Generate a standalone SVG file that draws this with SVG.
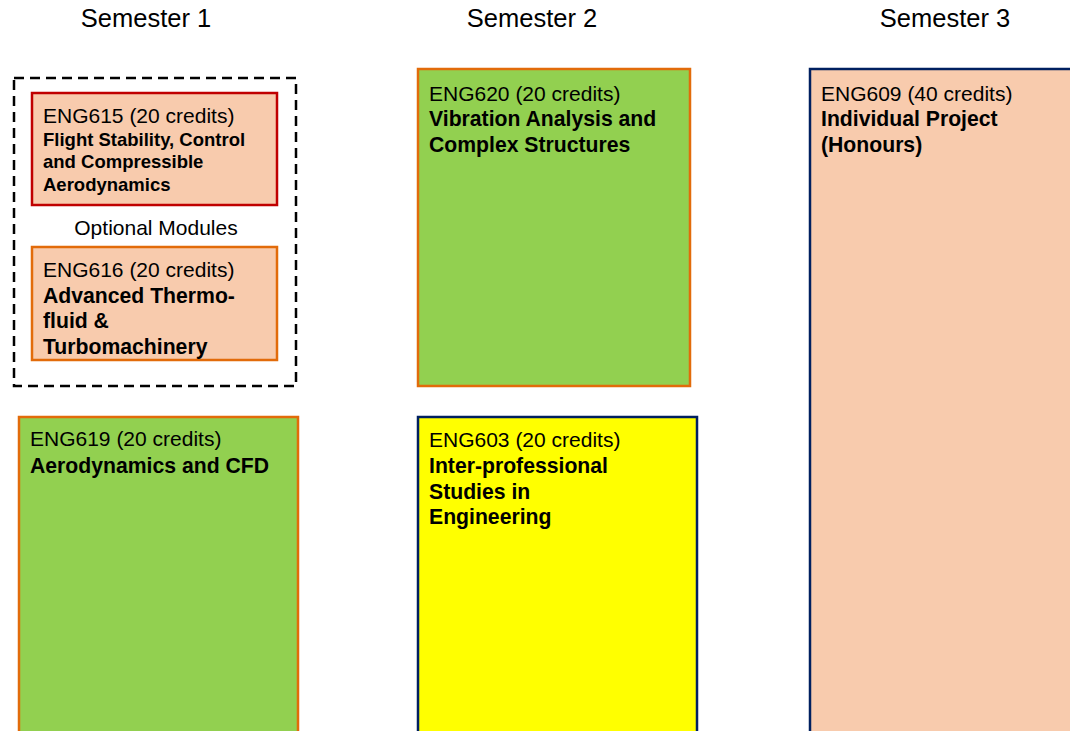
<svg xmlns="http://www.w3.org/2000/svg" width="1070" height="731" viewBox="0 0 1070 731">
<style>
text{font-family:"Liberation Sans",Arial,sans-serif;fill:#000}
.h{font-size:25.5px;text-anchor:middle}
.r{font-size:21px}
.b{font-size:21.2px;font-weight:bold}
.bs{font-size:18.5px;font-weight:bold}
.peach{fill:#F8CBAD}
.green{fill:#92D050}
.yellow{fill:#FFFF00}
.so{stroke:#E26B0A;stroke-width:2.5}
.sr{stroke:#C00000;stroke-width:2.5}
.sn{stroke:#002060;stroke-width:2.5}
</style>
<rect width="1070" height="731" fill="#fff"/>
<g id="headers">
<text class="h" x="146" y="27">Semester 1</text>
<text class="h" x="532" y="27">Semester 2</text>
<text class="h" x="945" y="27">Semester 3</text>
</g>
<g id="optional-group">
<rect x="14" y="78" width="282" height="308" fill="none" stroke="#000" stroke-width="2.5" stroke-dasharray="10,6"/>
<text class="r" x="156" y="235" text-anchor="middle">Optional Modules</text>
</g>
<g id="eng615">
<rect x="32" y="93" width="245" height="112" class="peach sr"/>
<text class="r" x="43" y="123">ENG615 (20 credits)</text>
<text class="bs" x="43" y="146">Flight Stability, Control</text>
<text class="bs" x="43" y="168">and Compressible</text>
<text class="bs" x="43" y="191">Aerodynamics</text>
</g>
<g id="eng616">
<rect x="32" y="247" width="245" height="113" class="peach so"/>
<text class="r" x="43" y="277">ENG616 (20 credits)</text>
<text class="b" x="43" y="303">Advanced Thermo-</text>
<text class="b" x="43" y="328">fluid &amp;</text>
<text class="b" x="43" y="354">Turbomachinery</text>
</g>
<g id="eng619">
<rect x="19" y="417" width="279" height="330" class="green so"/>
<text class="r" x="30" y="446">ENG619 (20 credits)</text>
<text class="b" x="30" y="473">Aerodynamics and CFD</text>
</g>
<g id="eng620">
<rect x="418" y="69" width="272" height="317" class="green so"/>
<text class="r" x="429" y="101">ENG620 (20 credits)</text>
<text class="b" x="429" y="126">Vibration Analysis and</text>
<text class="b" x="429" y="152">Complex Structures</text>
</g>
<g id="eng603">
<rect x="418" y="417" width="279" height="330" class="yellow sn"/>
<text class="r" x="429" y="447">ENG603 (20 credits)</text>
<text class="b" x="429" y="473">Inter-professional</text>
<text class="b" x="429" y="499">Studies in</text>
<text class="b" x="429" y="524">Engineering</text>
</g>
<g id="eng609">
<rect x="810" y="69" width="280" height="680" class="peach sn"/>
<text class="r" x="821" y="101">ENG609 (40 credits)</text>
<text class="b" x="821" y="126">Individual Project</text>
<text class="b" x="821" y="152">(Honours)</text>
</g>
<g id="connectors"/>
</svg>
